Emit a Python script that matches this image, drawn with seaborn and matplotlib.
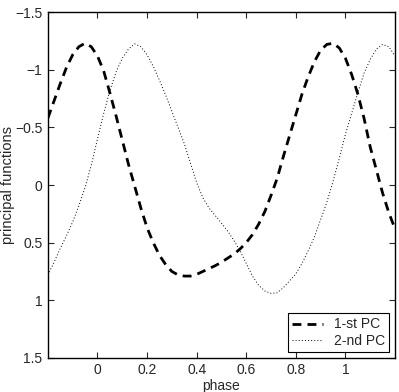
import numpy as np
import pandas as pd
import seaborn as sns
import matplotlib
matplotlib.use("Agg")
import matplotlib.pyplot as plt

# phase grid (step 0.025)
phase = np.round(np.arange(-0.2, 1.2001, 0.025), 3)

# 1st principal function (dashed)
pc1 = [-0.58, -0.73, -0.88, -1.02, -1.13, -1.20, -1.23, -1.20, -1.12, -0.99,
       -0.80, -0.60, -0.39, -0.18, 0.01, 0.20, 0.37, 0.50, 0.61, 0.69,
       0.75, 0.78, 0.79, 0.79, 0.775, 0.75, 0.725, 0.70, 0.67, 0.635,
       0.60, 0.555, 0.50, 0.43, 0.34, 0.23, 0.09, -0.06, -0.25, -0.43,
       -0.61, -0.79, -0.94, -1.07, -1.17, -1.22, -1.23, -1.19, -1.10, -0.96,
       -0.79, -0.58, -0.33, -0.13, 0.07, 0.24, 0.38]

# 2nd principal function (dotted)
pc2 = [0.78, 0.67, 0.55, 0.44, 0.32, 0.18, 0.02, -0.17, -0.40, -0.62,
       -0.82, -0.98, -1.10, -1.18, -1.225, -1.20, -1.13, -1.03, -0.91, -0.78,
       -0.64, -0.50, -0.36, -0.19, -0.02, 0.11, 0.20, 0.265, 0.33, 0.40,
       0.48, 0.57, 0.68, 0.79, 0.87, 0.92, 0.94, 0.935, 0.89, 0.83,
       0.77, 0.68, 0.57, 0.45, 0.30, 0.15, -0.03, -0.23, -0.44, -0.62,
       -0.80, -0.97, -1.09, -1.18, -1.22, -1.20, -1.12]

xticks = [0, 0.2, 0.4, 0.6, 0.8, 1]
xticklabels = ["0", "0.2", "0.4", "0.6", "0.8", "1"]
yticks = [-1.5, -1, -0.5, 0, 0.5, 1, 1.5]
yticklabels = ["\u22121.5", "\u22121", "\u22120.5", "0", "0.5", "1", "1.5"]

df = pd.DataFrame({"phase": phase, "pc1": pc1, "pc2": pc2})

sns.set_style("ticks")
plt.rcParams["font.family"] = ["Liberation Sans", "DejaVu Sans"]
plt.rcParams["xtick.direction"] = "in"
plt.rcParams["ytick.direction"] = "in"

fig = plt.figure(figsize=(3.99, 3.92), dpi=100)
ax = fig.add_axes([0.120, 0.087, 0.870, 0.882])

sns.lineplot(data=df, x="phase", y="pc1", ax=ax, color="black",
             linewidth=2.0, dashes=False, label="1-st PC")
ax.lines[-1].set_dashes([3.2, 2.2])
sns.lineplot(data=df, x="phase", y="pc2", ax=ax, color="black",
             linewidth=0.7, label="2-nd PC")
ax.lines[-1].set_dashes([1, 2.2])

ax.set_xlim(-0.2, 1.2)
ax.set_ylim(1.5, -1.5)
ax.set_xticks(xticks)
ax.set_xticklabels(xticklabels, fontsize=10)
ax.set_yticks(yticks)
ax.set_yticklabels(yticklabels, fontsize=10)
ax.tick_params(top=True, right=True, length=4, width=0.8, pad=4)
for s in ax.spines.values():
    s.set_linewidth(1.0)
    s.set_color("black")

ax.set_xlabel("phase", fontsize=10, labelpad=1)
ax.set_ylabel("principal functions", fontsize=10.5)
ax.yaxis.set_label_coords(-0.095, 0.5)

leg = ax.legend(loc="lower right", fontsize=10, frameon=True, fancybox=False,
                edgecolor="black", framealpha=1, handlelength=2.2,
                borderpad=0.3, labelspacing=0.2, borderaxespad=0.4)
leg.get_frame().set_linewidth(0.8)

fig.savefig("out.png", dpi=100)
